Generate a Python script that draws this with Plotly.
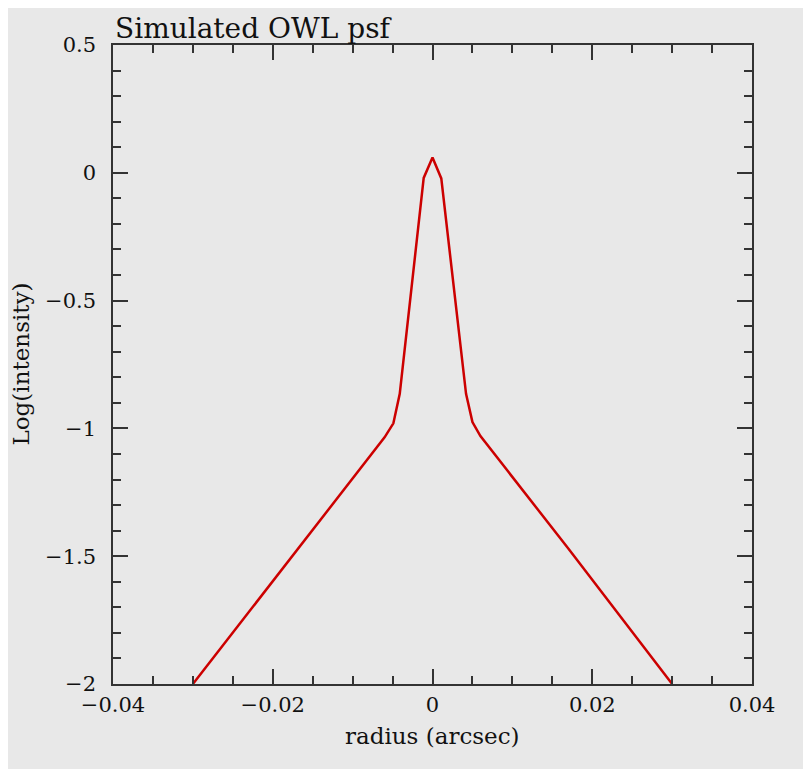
import plotly.graph_objects as go

# radius (arcsec) and log intensity
radius = [-0.0300, -0.0170, -0.0099, -0.0060, -0.0049, -0.0041, -0.0011, 0.0000,
          0.0011, 0.0042, 0.0050, 0.0060, 0.0095, 0.0170, 0.0300]
log_intensity = [-2.000, -1.478, -1.192, -1.035, -0.980, -0.865, -0.020, 0.060,
                 -0.022, -0.865, -0.975, -1.030, -1.170, -1.470, -2.000]

x_ticks = [-0.04, -0.02, 0, 0.02, 0.04]
x_labels = ["\u22120.04", "\u22120.02", "0", "0.02", "0.04"]
y_ticks = [-2, -1.5, -1, -0.5, 0, 0.5]
y_labels = ["\u22122", "\u22121.5", "\u22121", "\u22120.5", "0", "0.5"]

title_text = "Simulated OWL psf"
x_title = "radius (arcsec)"
y_title = "Log(intensity)"

BG = "#e8e8e8"
AX = "#333333"
FONT = "DejaVu Serif"

fig = go.Figure()
fig.add_trace(go.Scatter(x=radius, y=log_intensity, mode="lines",
                         line=dict(color="#cc0000", width=2.5), cliponaxis=True,
                         showlegend=False))

axis_common = dict(showgrid=False, zeroline=False, showline=True, linecolor=AX,
                   linewidth=1.5, mirror="allticks", ticks="inside", tickcolor=AX,
                   tickwidth=1.5, ticklen=15,
                   tickfont=dict(family=FONT, size=21, color="#111"))

fig.update_xaxes(range=[-0.04, 0.04], tickvals=x_ticks, ticktext=x_labels,
                 minor=dict(dtick=0.005, tick0=0, ticks="inside", ticklen=8,
                            tickcolor=AX, tickwidth=1.5, showgrid=False),
                 ticklabelstandoff=1, **axis_common)
fig.update_yaxes(range=[-2, 0.5], tickvals=y_ticks, ticktext=y_labels,
                 minor=dict(dtick=0.1, tick0=0, ticks="inside", ticklen=8,
                            tickcolor=AX, tickwidth=1.5, showgrid=False),
                 ticklabelstandoff=11, **axis_common)

fig.add_annotation(text=title_text, xref="paper", yref="paper", x=0.0, y=1.0,
                   xanchor="left", yanchor="bottom", showarrow=False, yshift=-2,
                   font=dict(family=FONT, size=28, color="#111"))
fig.add_annotation(text=x_title, xref="paper", yref="paper", x=0.5, y=0,
                   xanchor="center", yanchor="middle", showarrow=False, yshift=-52,
                   font=dict(family=FONT, size=23, color="#111"))
fig.add_annotation(text=y_title, xref="paper", yref="paper", x=0, y=0.5,
                   xanchor="center", yanchor="middle", showarrow=False, xshift=-93,
                   textangle=-90, font=dict(family=FONT, size=23, color="#111"))

fig.update_layout(width=811, height=769, paper_bgcolor=BG,
                  plot_bgcolor=BG,
                  margin=dict(l=105, r=67, t=37, b=93))

fig.write_html("out.html")
